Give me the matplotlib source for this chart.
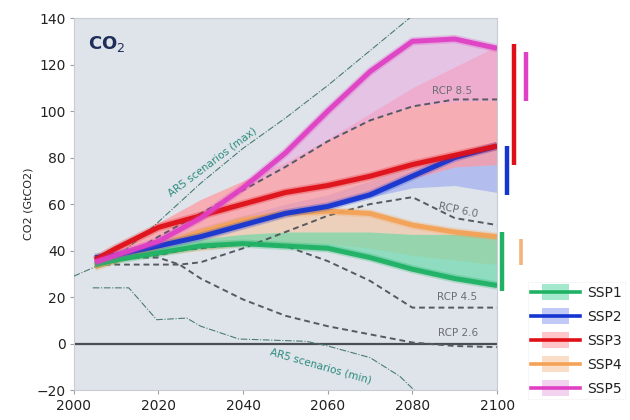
import numpy as np
import matplotlib
matplotlib.use("Agg")
import matplotlib.pyplot as plt
from matplotlib.lines import Line2D
from matplotlib.patches import Rectangle
from matplotlib.legend_handler import HandlerBase

# ---- scenario data (GtCO2) ----
years = [2005, 2010, 2020, 2030, 2040, 2050, 2060, 2070, 2080, 2090, 2100]

ssp1 = [34, 36, 39, 42, 43, 42, 41, 37, 32, 28, 25]
ssp2 = [37, 38, 42, 46, 51, 56, 59, 64, 72, 80, 85]
ssp3 = [36, 41, 50, 55, 60, 65, 68, 72, 77, 81, 85]
ssp4 = [33, 36, 42, 48, 53, 56, 57, 56, 51, 48, 46]
ssp5 = [35, 38, 44, 54, 67, 82, 100, 117, 130, 131, 127]

# model spread around each marker scenario
ssp1_lo = ssp1
ssp1_hi = [34, 37, 41, 45, 47, 48, 48, 48, 47, 47, 47]
ssp2_lo = [36, 37, 40, 44, 49, 54, 58, 63, 67, 68, 65]
ssp2_hi = [37, 39, 44, 50, 55, 60, 64, 70, 77, 82, 85]
ssp3_lo = [35, 38, 44, 48, 52, 56, 60, 65, 71, 76, 77]
ssp3_hi = [36, 42, 52, 62, 70, 78, 88, 99, 110, 119, 128]
ssp4_lo = [33, 35, 38, 40, 42, 43, 43, 41, 38, 36, 34]
ssp4_hi = ssp4
ssp5_lo = [35, 36, 46, 56, 66, 76, 87, 96, 102, 104, 104.5]
ssp5_hi = ssp5

# 2100 ranges shown to the right of the axes
range_x = [2101.2, 2102.4, 2104.0, 2105.7, 2106.9]
range_lo = [22.5, 64, 77, 34, 104.5]
range_hi = [48, 85, 129, 45, 125.6]

# RCP pathways
rcp_years = [2005, 2010, 2020, 2025, 2030, 2040, 2050, 2060, 2070, 2080, 2090, 2100]
rcp85 = [33, 35, 46, 51, 56, 66, 76, 87, 96, 102, 105, 105]
rcp60 = [34, 34, 34, 34, 35, 41, 48, 55, 60, 63, 54, 51]
rcp45 = [35, 36, 38, 40, 41, 43, 42, 35.5, 27, 15.5, 15.5, 15.5]
rcp26 = [35, 37, 37, 34, 28, 19, 12, 7.5, 4, 0.5, -1, -1.5]

# AR5 envelope
ar5_max_x = [2000, 2010, 2018, 2030, 2040, 2050, 2060, 2070, 2080]
ar5_max_y = [29, 37, 49, 69, 84, 97, 111, 126, 141]
ar5_min_x = [2004.5, 2013, 2019.6, 2026.7, 2030, 2039, 2055, 2060, 2070, 2077, 2081]
ar5_min_y = [24, 24, 10.3, 11, 7.5, 2, 1, -1, -6, -14, -21]

names = ["SSP1", "SSP2", "SSP3", "SSP4", "SSP5"]
line_cols = ["#1fb265", "#1535d0", "#e01018", "#f4a256", "#e040c4"]
band_cols = ["#5ad8a4", "#8f9ff2", "#ff98a0", "#f8c49c", "#e9aee2"]
band_alpha = [0.6, 0.55, 0.72, 0.6, 0.6]


class SSPKey(object):
    def __init__(self, band, line):
        self.band = band
        self.line = line


class BandLineHandler(HandlerBase):
    def create_artists(self, legend, orig, xd, yd, width, height, fontsize, trans):
        r = Rectangle((-xd + width * 0.22, -yd - height * 0.2), width * 0.56, height * 1.4,
                      fc=orig.band, ec="none", alpha=0.55, transform=trans)
        l = Line2D([-xd, -xd + width], [-yd + height / 2] * 2, color=orig.line,
                   lw=2.6, transform=trans)
        return [r, l]


fig = plt.figure(figsize=(6.3, 4.2), dpi=100)
ax = fig.add_axes([0.117, 0.071, 0.672, 0.886])
ax.set_facecolor("#dfe4ea")

lows = [ssp1_lo, ssp2_lo, ssp3_lo, ssp4_lo, ssp5_lo]
highs = [ssp1_hi, ssp2_hi, ssp3_hi, ssp4_hi, ssp5_hi]
for i in [1, 2, 4, 3, 0]:
    ax.fill_between(years, lows[i], highs[i], color=band_cols[i], alpha=band_alpha[i],
                    lw=0, zorder=1)

ax.axhline(0, color="#4a4d52", lw=1.6, zorder=2)

# RCP dashed lines
for r in [rcp85, rcp60, rcp45, rcp26]:
    ax.plot(rcp_years, r, color="#555a60", lw=1.4, ls=(0, (3, 2)), zorder=3)

ax.plot(ar5_max_x, ar5_max_y, color="#4a7c74", lw=0.8, ls=(0, (6, 1.5, 1, 1.5)), zorder=3)
ax.plot(ar5_min_x, ar5_min_y, color="#4a7c74", lw=0.8, ls=(0, (6, 1.5, 1, 1.5)), zorder=3)

# SSP marker lines with a soft halo
ssp = [ssp1, ssp2, ssp3, ssp4, ssp5]
for i in [3, 1, 0, 2, 4]:
    ax.plot(years, ssp[i], color=line_cols[i], lw=6, alpha=0.25, solid_capstyle="butt", zorder=4)
    ax.plot(years, ssp[i], color=line_cols[i], lw=3.6, alpha=0.95, solid_capstyle="butt", zorder=4)

# 2100 range bars
for i in range(5):
    lw = 3.2 if i != 3 else 2.6
    a = 1.0 if i != 3 else 0.8
    ax.plot([range_x[i], range_x[i]], [range_lo[i], range_hi[i]], color=line_cols[i],
            lw=lw, alpha=a, clip_on=False, zorder=5, solid_capstyle="butt")

# annotations
ax.text(2003.3, 129, r"CO$_2$", fontsize=13, fontweight="bold", color="#1f2d5a",
        va="center", ha="left")
rcp_kw = dict(fontsize=7.5, color="#6b6e73", ha="center", va="center")
ax.text(2089.4, 108.5, "RCP 8.5", **rcp_kw)
ax.text(2090.8, 57.5, "RCP 6.0", rotation=-12, **rcp_kw)
ax.text(2090.5, 20, "RCP 4.5", **rcp_kw)
ax.text(2090.8, 4.8, "RCP 2.6", **rcp_kw)
ax.text(2023, 63, "AR5 scenarios (max)", fontsize=7.5, color="#2b8a7c",
        rotation=37, rotation_mode="anchor", ha="left", va="baseline")
ax.text(2046.3, -4.5, "AR5 scenarios (min)", fontsize=7.5, color="#2b8a7c",
        rotation=-16, rotation_mode="anchor", ha="left", va="baseline")

ax.set_xlim(2000, 2100)
ax.set_ylim(-20, 140)
ax.set_xticks(range(2000, 2101, 20))
ax.set_yticks(range(-20, 141, 20))
ax.tick_params(labelsize=10, colors="#222222", length=3, pad=3)
ax.tick_params(axis="both", color="#9aa0a6")
ax.set_ylabel("CO2 (GtCO2)", fontsize=8, color="#222222", labelpad=2)
for s in ax.spines.values():
    s.set_color("#c9cdd3")
    s.set_linewidth(0.8)

handles = [SSPKey(band_cols[i], line_cols[i]) for i in range(5)]
leg = fig.legend(handles, names, handler_map={SSPKey: BandLineHandler()},
                 loc="lower left", bbox_to_anchor=(0.838, 0.05), borderaxespad=0,
                 fontsize=10, handlelength=3.5, handleheight=0.9, labelspacing=0.72,
                 handletextpad=0.5, frameon=True, fancybox=False, borderpad=0.25)
leg.get_frame().set_edgecolor("#f2f2f2")
leg.get_frame().set_linewidth(0.6)
for t in leg.get_texts():
    t.set_color("#222222")

fig.savefig("out.png", dpi=100)
